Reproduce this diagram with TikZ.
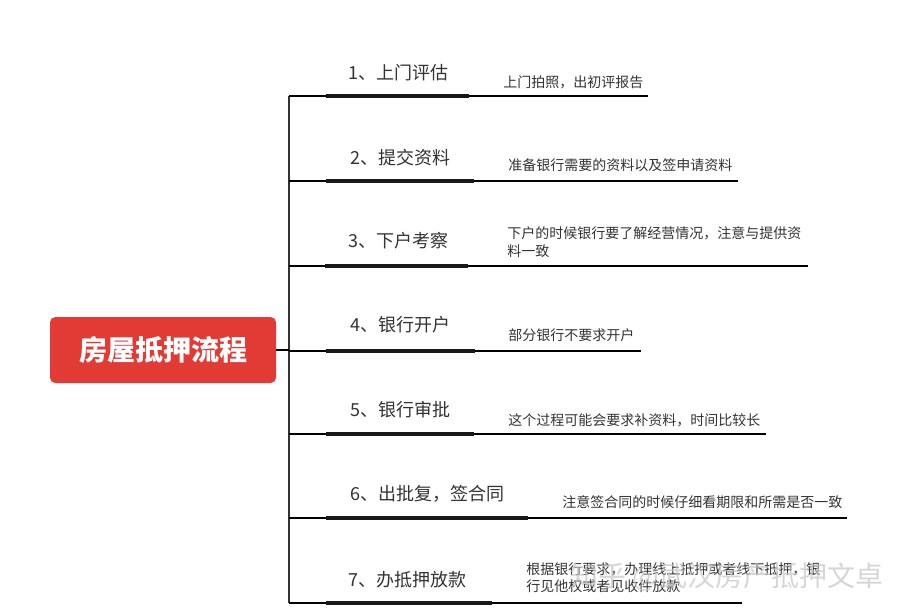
\documentclass[tikz,border=0pt]{standalone}
\usepackage{fontspec}
\setmainfont{Noto Sans CJK SC}
\definecolor{titlered}{HTML}{E23B36}
\definecolor{txt}{HTML}{333333}
\begin{document}
\begin{tikzpicture}[x=0.75pt,y=-0.75pt,
  titlebox/.style={fill=titlered,rounded corners=4pt,minimum width=169.5pt,minimum height=49.5pt,inner sep=0pt,text=white,font=\fontsize{21}{21}\selectfont\bfseries},
  steplabel/.style={anchor=west,inner sep=0pt,text=txt,font=\fontsize{13.5}{14}\selectfont},
  desc/.style={anchor=west,inner sep=0pt,text=txt,font=\fontsize{10.5}{13}\selectfont,align=left},
  trunk/.style={draw=black!80,line width=1.5pt},
  branch/.style={draw=black,line width=0.9pt},
  bar/.style={draw=black!90,line width=3.6pt},
  wm/.style={anchor=west,inner sep=0pt,text=gray!45,opacity=0.7,font=\fontsize{21}{21}\selectfont}]
\useasboundingbox (0,0) rectangle (898,612);
\fill[white] (0,0) rectangle (898,612);

\node[titlebox] (root) at (163,350) {房屋抵押流程};
\coordinate (top) at (289,96);
\coordinate (bot) at (289,603);
\coordinate (mid) at (289,350);
\draw[trunk] (top) -- (bot);
\draw[branch] (root.east) -- (mid);

% branch 1
\coordinate (b1) at (289,96);  \coordinate (e1) at (648,96);
\coordinate (s1) at (326,96);  \coordinate (t1) at (469,96);
% branch 2
\coordinate (b2) at (289,181); \coordinate (e2) at (738,181);
\coordinate (s2) at (326,181); \coordinate (t2) at (474,181);
% branch 3
\coordinate (b3) at (289,266); \coordinate (e3) at (808,266);
\coordinate (s3) at (325,266); \coordinate (t3) at (468,266);
% branch 4
\coordinate (b4) at (289,351); \coordinate (e4) at (641,351);
\coordinate (s4) at (326,351); \coordinate (t4) at (475,351);
% branch 5
\coordinate (b5) at (289,434); \coordinate (e5) at (766,434);
\coordinate (s5) at (326,434); \coordinate (t5) at (474,434);
% branch 6
\coordinate (b6) at (289,518); \coordinate (e6) at (847,518);
\coordinate (s6) at (326,518); \coordinate (t6) at (528,518);
% branch 7
\coordinate (b7) at (289,603); \coordinate (e7) at (742,603);
\coordinate (s7) at (326,603); \coordinate (t7) at (492,603);

\foreach \i in {1,...,7}{
  \draw[branch] (b\i) -- (e\i);
  \draw[bar] (s\i) -- (t\i);
}

\node[steplabel] (l1) at (348,73)  {1、上门评估};
\node[steplabel] (l2) at (350,158) {2、提交资料};
\node[steplabel] (l3) at (348,241) {3、下户考察};
\node[steplabel] (l4) at (350,325) {4、银行开户};
\node[steplabel] (l5) at (350,410) {5、银行审批};
\node[steplabel] (l6) at (350,494) {6、出批复，签合同};
\node[steplabel] (l7) at (348,580) {7、办抵押放款};

\node[desc] (d1) at (503,82)  {上门拍照，出初评报告};
\node[desc] (d2) at (508,165) {准备银行需要的资料以及签申请资料};
\node[desc] (d3) at (507,242) {下户的时候银行要了解经营情况，注意与提供资\\料一致};
\node[desc] (d4) at (508,335) {部分银行不要求开户};
\node[desc] (d5) at (508,420) {这个过程可能会要求补资料，时间比较长};
\node[desc] (d6) at (562,502) {注意签合同的时候仔细看期限和所需是否一致};
\node[desc] (d7) at (526,578) {根据银行要求，办理线上抵押或者线下抵押，银\\行见他权或者见收件放款};

\node[wm] (wmark) at (570,577) {知乎 @武汉房产抵押文卓};
\end{tikzpicture}
\end{document}
